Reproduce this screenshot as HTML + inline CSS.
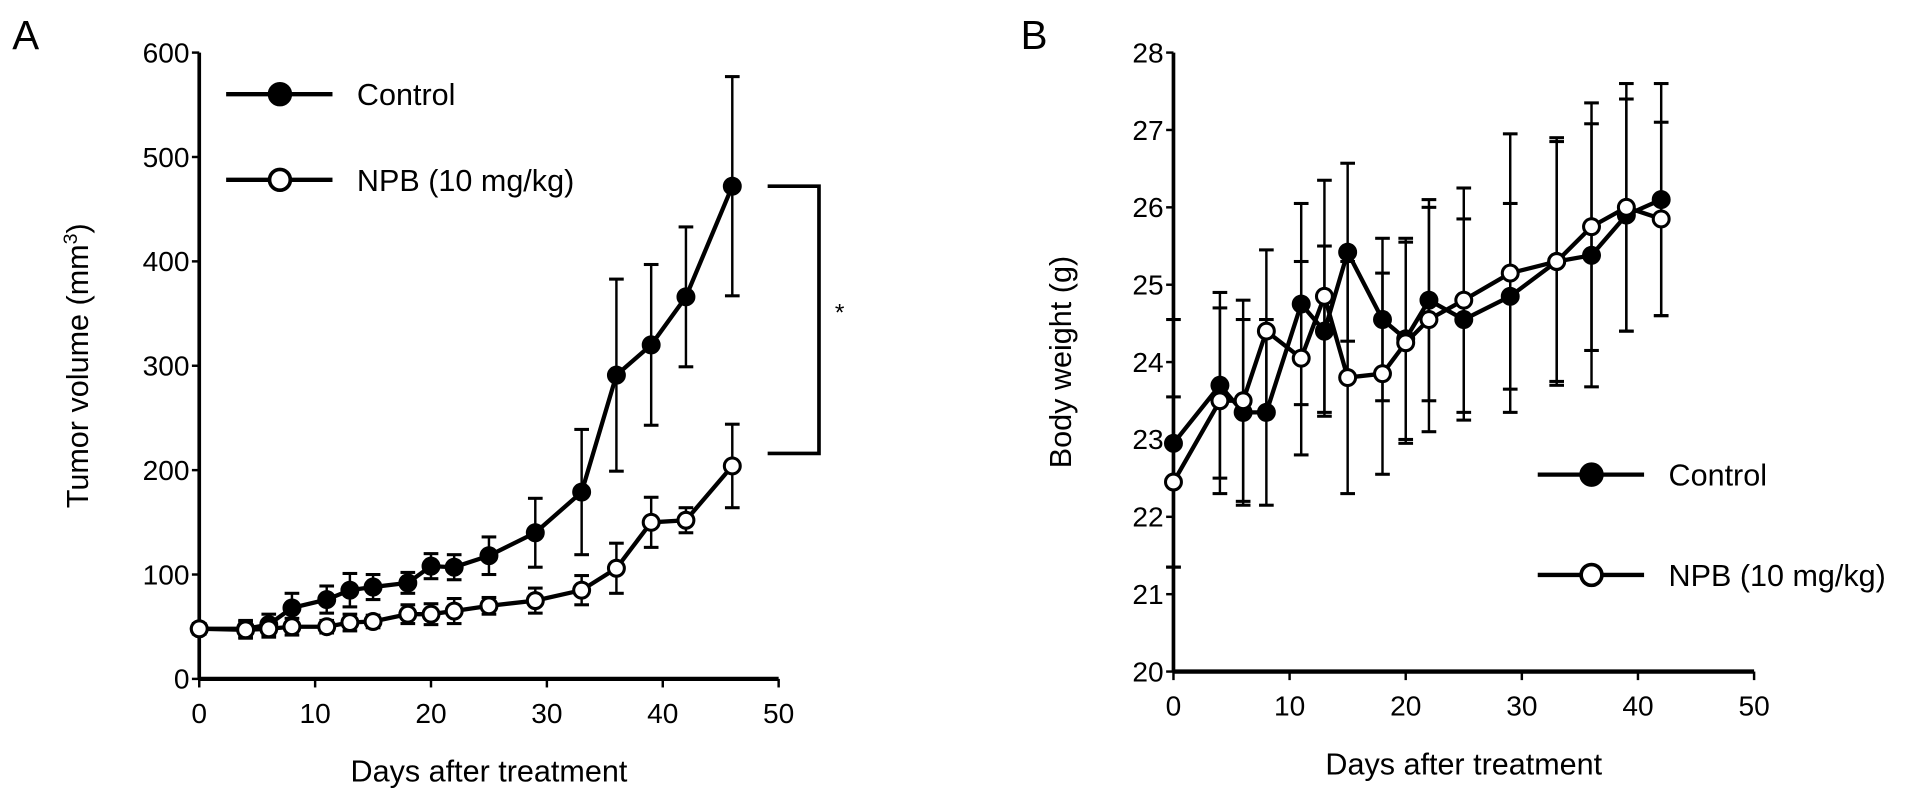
<!DOCTYPE html>
<html><head><meta charset="utf-8"><style>
html,body{margin:0;padding:0;background:#fff;}
svg{display:block;font-family:"Liberation Sans",sans-serif;}
</style></head><body>
<svg id="fig" width="1913" height="800" viewBox="0 0 1565 654" preserveAspectRatio="none" xmlns="http://www.w3.org/2000/svg">
<g id="gA"></g>
<g id="gB"></g>
</svg>
<script>
const daysA=[0,4,6,8,11,13,15,18,20,22,25,29,33,36,39,42,46];
const ctrlA=[48,48,52,68,76,85,88,92,108,107,118,140,179,291,320,366,472];
const ctrlAErr=[5,8,10,14,13,16,12,10,12,12,18,33,60,92,77,67,105];
const npbA=[48,47,48,50,50,54,55,62,62,65,70,75,85,106,150,152,204];
const npbAErr=[5,8,8,8,6,8,6,9,10,12,8,12,14,24,24,12,40];
const yTicksA=[0,100,200,300,400,500,600];
const xTicks=[0,10,20,30,40,50];
const daysB=[0,4,6,8,11,13,15,18,20,22,25,29,33,36,39,42];
const ctrlB=[22.95,23.7,23.35,23.35,24.75,24.4,25.42,24.55,24.3,24.8,24.55,24.85,25.3,25.38,25.9,26.1];
const ctrlBErr=[1.6,1.2,1.2,1.2,1.3,1.1,1.15,1.05,1.3,1.3,1.3,1.2,1.55,1.7,1.5,1.5];
const npbB=[22.45,23.5,23.5,24.4,24.05,24.85,23.8,23.85,24.25,24.55,24.8,25.15,25.3,25.75,26.0,25.85];
const npbBErr=[1.1,1.2,1.3,1.05,1.25,1.5,1.5,1.3,1.3,1.45,1.45,1.8,1.6,1.6,1.6,1.25];
const yTicksB=[20,21,22,23,24,25,26,27,28];

const NS='http://www.w3.org/2000/svg';
function mk(p,tag,at,txt){const e=document.createElementNS(NS,tag);for(const k in at)e.setAttribute(k,at[k]);if(txt!==undefined)e.textContent=txt;p.appendChild(e);return e;}

function panel(g,o){
  const sx=d=>o.x0+(d-0)/50*(o.x1-o.x0);
  const sy=v=>o.yb+(v-o.ymin)/(o.ymax-o.ymin)*(o.yt-o.yb);
  const axes=mk(g,'g',{});
  
  
  mk(axes,'line',{x1:o.x0,y1:o.yb,x2:o.x1,y2:o.yb,stroke:'#000','stroke-width':3.5});
  mk(axes,'line',{x1:o.x0,y1:o.yb,x2:o.x0,y2:o.yt,stroke:'#000','stroke-width':3});
  xTicks.forEach(t=>{
    mk(axes,'line',{x1:sx(t),y1:o.yb,x2:sx(t),y2:o.yb+7,stroke:'#000','stroke-width':2});
    const tl=mk(axes,'text',{x:sx(t),y:o.yb+36,'font-size':23,'text-anchor':'middle'},t);
    
    
  });
  o.yt_.forEach(t=>{
    mk(axes,'line',{x1:o.x0-6,y1:sy(t),x2:o.x0,y2:sy(t),stroke:'#000','stroke-width':2});
    const tl=mk(axes,'text',{x:o.x0-8,y:sy(t)+8,'font-size':23,'text-anchor':'end'},t);
    
    
  });
  const xt=mk(axes,'text',{x:(o.x0+o.x1)/2,y:o.yb+84,'font-size':25,'text-anchor':'middle'},'Days after treatment');
  
  
  const yt=mk(axes,'text',{x:0,y:0,'font-size':25,'text-anchor':'middle',transform:`translate(${o.ytx},${(o.yt+o.yb)/2}) rotate(-90)`});
  
  
  yt.innerHTML=o.ytitle;
  o.series.forEach(s=>{
    const sg=mk(g,'g',{});
    
    
    s.days.forEach((d,i)=>{
      const x=sx(d),hi=sy(s.v[i]+s.e[i]),lo=sy(s.v[i]-s.e[i]);
      mk(sg,'line',{x1:x,y1:hi,x2:x,y2:lo,stroke:'#000','stroke-width':2});
      mk(sg,'line',{x1:x-6,y1:hi,x2:x+6,y2:hi,stroke:'#000','stroke-width':2.5});
      mk(sg,'line',{x1:x-6,y1:lo,x2:x+6,y2:lo,stroke:'#000','stroke-width':2.5});
    });
    mk(sg,'polyline',{points:s.days.map((d,i)=>sx(d)+','+sy(s.v[i])).join(' '),fill:'none',stroke:'#000','stroke-width':3.5});
    s.days.forEach((d,i)=>{
      const c=mk(sg,'circle',{cx:sx(d),cy:sy(s.v[i]),r:6.5,fill:s.fill,stroke:'#000','stroke-width':2.5});
      
      
    });
  });
  o.legend.forEach(l=>{
    const lg=mk(g,'g',{});
    
    
    mk(lg,'line',{x1:l.x,y1:l.y,x2:l.x+87,y2:l.y,stroke:'#000','stroke-width':3.5});
    mk(lg,'circle',{cx:l.x+44,cy:l.y,r:8.5,fill:l.fill,stroke:'#000','stroke-width':3});
    mk(lg,'text',{x:l.x+107,y:l.y+9,'font-size':25},l.label);
  });
  return {sx,sy};
}

const gA=document.getElementById('gA');
const A=panel(gA,{x0:163,x1:637,yb:555,yt:43,ymin:0,ymax:600,yt_:yTicksA,ytx:72,
  ytitle:'Tumor volume (mm<tspan baseline-shift="super" font-size="16">3</tspan>)',
  series:[{name:'control-series',days:daysA,v:ctrlA,e:ctrlAErr,fill:'#000'},{name:'npb-series',days:daysA,v:npbA,e:npbAErr,fill:'#fff'}],
  legend:[{x:185,y:77,label:'Control',fill:'#000'},{x:185,y:147,label:'NPB (10 mg/kg)',fill:'#fff'}]});
mk(document.getElementById('fig'),'text',{x:10,y:40,'font-size':33},'A');
const br=mk(gA,'polyline',{points:`628,${A.sy(ctrlA[16])} 670,${A.sy(ctrlA[16])} 670,${A.sy(npbA[16]+12)} 628,${A.sy(npbA[16]+12)}`,fill:'none',stroke:'#000','stroke-width':3});


const st=mk(gA,'text',{x:683,y:262,'font-size':20},'*');



const gB=document.getElementById('gB');
panel(gB,{x0:960,x1:1435,yb:549,yt:43,ymin:20,ymax:28,yt_:yTicksB,ytx:876,
  ytitle:'Body weight (g)',
  series:[{name:'control-series',days:daysB,v:ctrlB,e:ctrlBErr,fill:'#000'},{name:'npb-series',days:daysB,v:npbB,e:npbBErr,fill:'#fff'}],
  legend:[{x:1258,y:388,label:'Control',fill:'#000'},{x:1258,y:470,label:'NPB (10 mg/kg)',fill:'#fff'}]});
mk(document.getElementById('fig'),'text',{x:835,y:40,'font-size':33},'B');
</script>
</body></html>
